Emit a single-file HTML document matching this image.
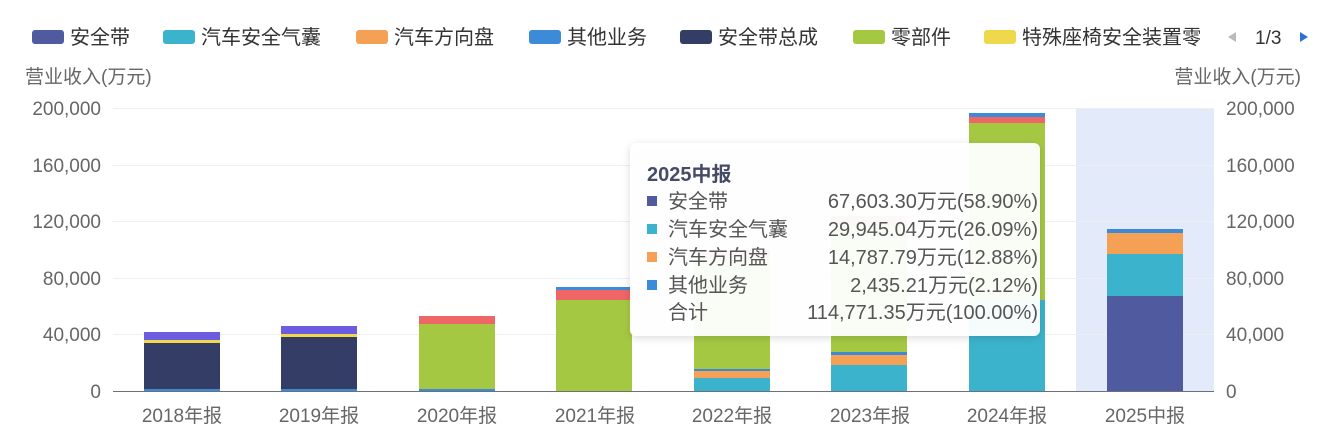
<!DOCTYPE html>
<html><head><meta charset="utf-8"><style>
body{margin:0;background:#fff;}
svg text{font-family:"Liberation Sans","Noto Sans CJK SC",sans-serif;}
</style></head><body>
<svg width="1323" height="432" viewBox="0 0 1323 432" xmlns="http://www.w3.org/2000/svg">
<defs><clipPath id="lg"><rect x="0" y="0" width="1200" height="60"/></clipPath>
<filter id="sh" x="-10%" y="-10%" width="120%" height="130%"><feDropShadow dx="0" dy="2" stdDeviation="4" flood-color="#000" flood-opacity="0.15"/></filter></defs>
<!-- legend -->
<g font-size="20" fill="#333" clip-path="url(#lg)">
<rect x="32" y="30" width="32" height="14" rx="3" fill="#4f5b9e"/><text x="70" y="44">安全带</text>
<rect x="163" y="30" width="32" height="14" rx="3" fill="#3bb3cc"/><text x="201" y="44">汽车安全气囊</text>
<rect x="356" y="30" width="32" height="14" rx="3" fill="#f4a155"/><text x="394" y="44">汽车方向盘</text>
<rect x="529" y="30" width="32" height="14" rx="3" fill="#3d8ad8"/><text x="567" y="44">其他业务</text>
<rect x="680" y="30" width="32" height="14" rx="3" fill="#333d66"/><text x="718" y="44">安全带总成</text>
<rect x="853" y="30" width="32" height="14" rx="3" fill="#a5c843"/><text x="891" y="44">零部件</text>
<rect x="984" y="30" width="32" height="14" rx="3" fill="#f0d84c"/><text x="1022" y="44">特殊座椅安全装置零</text>
</g>
<polygon points="1228,37 1236,32 1236,42" fill="#bbb"/>
<text x="1255" y="44" font-size="19" fill="#333">1/3</text>
<polygon points="1308,37 1300,32 1300,42" fill="#2f6fd8"/>
<text x="25" y="83" font-size="19" fill="#666">营业收入(万元)</text>
<text x="1301" y="83" font-size="19" fill="#666" text-anchor="end">营业收入(万元)</text>
<!-- highlight -->
<rect x="1076" y="108" width="138" height="283" fill="#e3ebfb"/>
<!-- grid -->
<g stroke="#eceff4" stroke-width="1">
<line x1="113" x2="1214" y1="108.5" y2="108.5"/><line x1="113" x2="1214" y1="165.5" y2="165.5"/>
<line x1="113" x2="1214" y1="221.5" y2="221.5"/><line x1="113" x2="1214" y1="278.5" y2="278.5"/>
<line x1="113" x2="1214" y1="334.5" y2="334.5"/>
</g>
<g font-size="19" fill="#666" text-anchor="end">
<text x="101" y="115">200,000</text><text x="101" y="172">160,000</text><text x="101" y="228">120,000</text><text x="101" y="285">80,000</text><text x="101" y="341">40,000</text><text x="101" y="398">0</text>
</g>
<g font-size="19" fill="#666">
<text x="1226" y="115">200,000</text><text x="1226" y="172">160,000</text><text x="1226" y="228">120,000</text><text x="1226" y="285">80,000</text><text x="1226" y="341">40,000</text><text x="1226" y="398">0</text>
</g>
<!-- bars -->
<rect x="144" y="343" width="76" height="46" fill="#333d66"/><rect x="144" y="389" width="76" height="2" fill="#3d8ad8"/>
<rect x="144" y="340" width="76" height="3" fill="#f0d84c"/><rect x="144" y="332" width="76" height="8" fill="#6c5ce0"/>
<rect x="281" y="337" width="76" height="52" fill="#333d66"/><rect x="281" y="389" width="76" height="2" fill="#3d8ad8"/>
<rect x="281" y="334" width="76" height="3" fill="#f0d84c"/><rect x="281" y="326" width="76" height="8" fill="#6c5ce0"/>
<rect x="419" y="324" width="76" height="65" fill="#a5c843"/><rect x="419" y="389" width="76" height="2" fill="#3d8ad8"/>
<rect x="419" y="316" width="76" height="8" fill="#ee6666"/>
<rect x="556" y="300" width="76" height="91" fill="#a5c843"/><rect x="556" y="290" width="76" height="10" fill="#ee6666"/><rect x="556" y="287" width="76" height="3" fill="#3d8ad8"/>
<rect x="694" y="378" width="76" height="13" fill="#3bb3cc"/><rect x="694" y="371" width="76" height="7" fill="#f4a155"/><rect x="694" y="369" width="76" height="2" fill="#3d8ad8"/>
<rect x="694" y="258" width="76" height="111" fill="#a5c843"/><rect x="694" y="250" width="76" height="8" fill="#ee6666"/>
<rect x="831" y="365" width="76" height="26" fill="#3bb3cc"/><rect x="831" y="355" width="76" height="10" fill="#f4a155"/><rect x="831" y="352" width="76" height="3" fill="#3d8ad8"/>
<rect x="831" y="226" width="76" height="126" fill="#a5c843"/><rect x="831" y="216" width="76" height="10" fill="#ee6666"/>
<rect x="969" y="300" width="76" height="91" fill="#3bb3cc"/><rect x="969" y="123" width="76" height="177" fill="#a5c843"/>
<rect x="969" y="117" width="76" height="6" fill="#ee6666"/><rect x="969" y="113" width="76" height="4" fill="#3d8ad8"/>
<rect x="1107" y="296" width="76" height="95" fill="#4f5b9e"/><rect x="1107" y="254" width="76" height="42" fill="#3bb3cc"/>
<rect x="1107" y="233" width="76" height="21" fill="#f4a155"/><rect x="1107" y="229" width="76" height="4" fill="#3d8ad8"/>
<line x1="113" x2="1214" y1="391.5" y2="391.5" stroke="#6e7079" stroke-width="1"/>
<g font-size="19" fill="#666" text-anchor="middle">
<text x="182" y="422">2018年报</text><text x="319" y="422">2019年报</text><text x="457" y="422">2020年报</text><text x="595" y="422">2021年报</text>
<text x="732" y="422">2022年报</text><text x="870" y="422">2023年报</text><text x="1007" y="422">2024年报</text><text x="1145" y="422">2025中报</text>
</g>
<!-- tooltip -->
<rect x="630" y="143" width="410" height="193" rx="6" fill="#fff" fill-opacity="0.95" filter="url(#sh)"/>
<text x="647" y="181" font-size="20" font-weight="bold" fill="#464c66">2025中报</text>
<g font-size="20" fill="#555">
<rect x="647" y="196" width="10" height="10" fill="#4f5b9e"/><text x="668" y="208">安全带</text>
<rect x="647" y="224" width="10" height="10" fill="#3bb3cc"/><text x="668" y="236">汽车安全气囊</text>
<rect x="647" y="252" width="10" height="10" fill="#f4a155"/><text x="668" y="264">汽车方向盘</text>
<rect x="647" y="280" width="10" height="10" fill="#3d8ad8"/><text x="668" y="292">其他业务</text>
<text x="668" y="319">合计</text>
</g>
<g font-size="20" fill="#555" text-anchor="end">
<text x="1038" y="208">67,603.30万元(58.90%)</text>
<text x="1038" y="236">29,945.04万元(26.09%)</text>
<text x="1038" y="264">14,787.79万元(12.88%)</text>
<text x="1038" y="292">2,435.21万元(2.12%)</text>
<text x="1038" y="319">114,771.35万元(100.00%)</text>
</g>
</svg>
</body></html>
